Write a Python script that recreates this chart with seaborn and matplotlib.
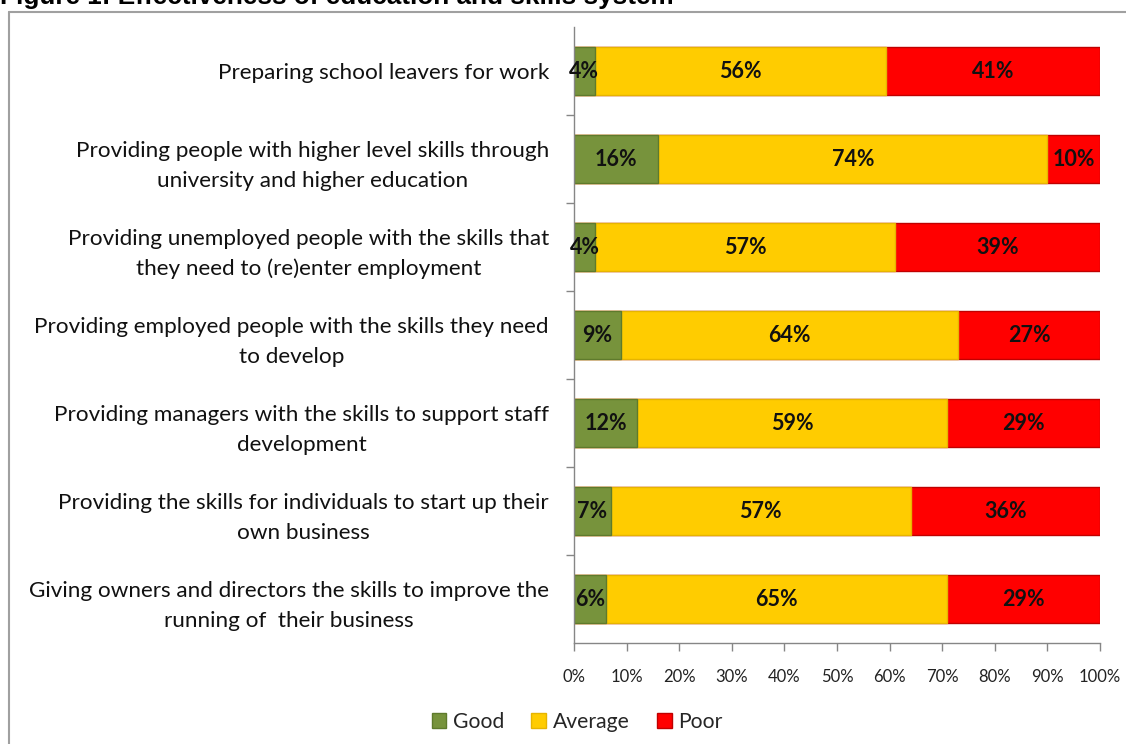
import matplotlib
matplotlib.use("Agg")
import matplotlib.pyplot as plt
from matplotlib.lines import Line2D
from matplotlib.patches import Patch
import numpy as np
import pandas as pd
import seaborn as sns

# Survey responses, percentage of respondents per rating
categories = [
    "Preparing school leavers for work",
    "Providing people with higher level skills through\nuniversity and higher education",
    "Providing unemployed people with the skills that\nthey need to (re)enter employment",
    "Providing employed people with the skills they need\nto develop",
    "Providing managers with the skills to support staff\ndevelopment",
    "Providing the skills for individuals to start up their\nown business",
    "Giving owners and directors the skills to improve the\nrunning of  their business",
]
good = [4, 16, 4, 9, 12, 7, 6]
average = [56, 74, 57, 64, 59, 57, 65]
poor = [41, 10, 39, 27, 29, 36, 29]

series_names = ["Good", "Average", "Poor"]
colors = {"Good": "#77933C", "Average": "#FFCC00", "Poor": "#FF0000"}
edges = {"Good": "#5E7A2C", "Average": "#E6B400", "Poor": "#C00000"}
tick_labels = [f"{v}%" for v in range(0, 101, 10)]

sns.set_theme(style="white")
plt.rcParams["font.family"] = ["Lato", "DejaVu Sans"]

df = pd.DataFrame({"category": categories, "Good": good, "Average": average, "Poor": poor})
totals = df[series_names].sum(axis=1)
shares = df[series_names].div(totals, axis=0)
cum = shares.cumsum(axis=1)

fig = plt.figure(figsize=(11.26, 7.44), dpi=100)
ax = fig.add_axes([574 / 1126, 1 - 643 / 744, 526 / 1126, 616 / 744])

# stacked bars: draw cumulative totals from the widest to the narrowest
for name in reversed(series_names):
    plot_df = pd.DataFrame({"category": categories, "value": cum[name]})
    sns.barplot(data=plot_df, x="value", y="category", orient="y", ax=ax,
                color=colors[name], width=0.545, saturation=1,
                edgecolor=edges[name], linewidth=1.0)

# value labels centred in each segment
for i in range(len(categories)):
    left = 0.0
    for name in series_names:
        w = shares.loc[i, name]
        ax.text(left + w / 2, i, f"{df.loc[i, name]}%", ha="center", va="center",
                fontsize=15.5, fontweight="bold", color="#111111")
        left += w

ax.set_xlim(0, 1)
ax.set_ylim(len(categories) - 0.5, -0.5)
ax.set_xlabel("")
ax.set_ylabel("")
ax.set_xticks(np.linspace(0, 1, 11))
ax.set_xticklabels(tick_labels)
ax.tick_params(axis="x", direction="out", length=6, width=1, color="#868686",
               pad=13, labelsize=12, labelcolor="#222222", bottom=True)
ax.set_yticks(range(len(categories)))
ax.set_yticklabels(categories, fontsize=16.2, color="#111111")
for lbl in ax.get_yticklabels():
    lbl.set_multialignment("center")
    lbl.set_linespacing(1.6)
ax.tick_params(axis="y", length=0, pad=18, left=True)
ax.set_yticks(np.arange(0.5, len(categories) - 0.5, 1), minor=True)
ax.tick_params(axis="y", which="minor", direction="out", length=6, width=1,
               color="#868686", left=True)

for side in ["top", "right"]:
    ax.spines[side].set_visible(False)
for side in ["left", "bottom"]:
    ax.spines[side].set_color("#868686")
    ax.spines[side].set_linewidth(1)

handles = [Patch(facecolor=colors[n], edgecolor=edges[n], label=n) for n in series_names]
fig.legend(handles=handles, loc="center", bbox_to_anchor=(577 / 1126, 1 - 722 / 744),
           ncol=3, frameon=False, fontsize=15.2, handlelength=0.7, handleheight=0.7,
           handletextpad=0.3, columnspacing=1.3)

# chart frame and figure caption
fig.add_artist(Line2D([9 / 1126, 1.01], [1 - 12 / 744] * 2, color="#A0A0A0", lw=1.5))
fig.add_artist(Line2D([9 / 1126] * 2, [-0.01, 1 - 12 / 744], color="#A0A0A0", lw=1.5))
fig.text(0.0, 1 - 4 / 744, "Figure 1: Effectiveness of education and skills system",
         family=["Liberation Sans", "DejaVu Sans"], fontweight="bold", fontsize=18.8,
         ha="left", va="baseline", color="#000000")

fig.savefig("out.png", dpi=100, facecolor="white")
